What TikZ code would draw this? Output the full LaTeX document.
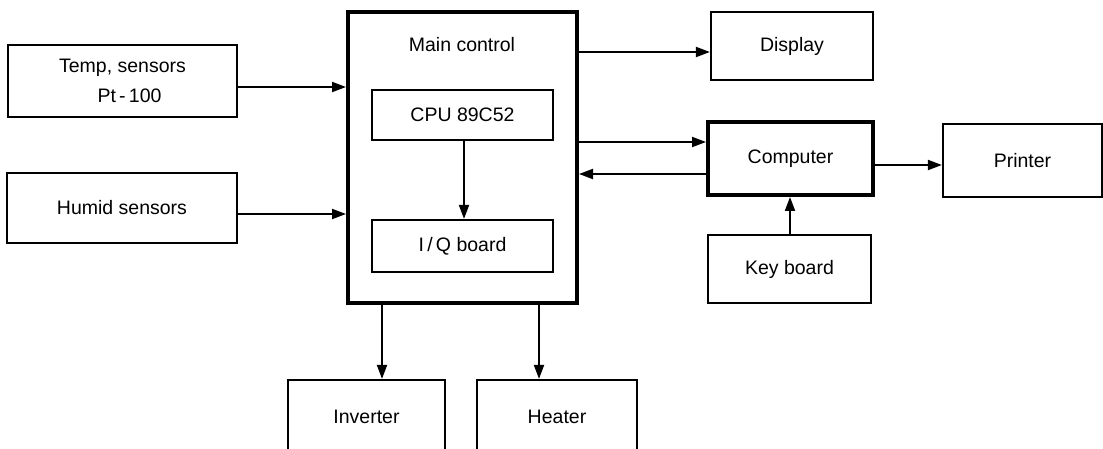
\documentclass[tikz,border=0pt]{standalone}
\usepackage{fontspec}
\setmainfont{Liberation Sans}
\usetikzlibrary{arrows.meta}
\begin{document}
\begin{tikzpicture}[x=1pt,y=-1pt,
  box/.style={draw, line width=2.2pt, rectangle, inner sep=0pt, align=center,
    font=\fontsize{19.5}{30}\selectfont},
  thickbox/.style={box, line width=4pt},
  arr/.style={line width=2pt, -{Triangle[length=14pt,width=10pt]}},
  lbl/.style={inner sep=0pt, font=\fontsize{19.5}{30}\selectfont}]
\useasboundingbox (0,0) rectangle (1103,449);
\fill[white] (0,0) rectangle (1103,449);
% left inputs
\node[box, minimum width=229pt, minimum height=72pt] (temp) at (122.5,81)
  {Temp, sensors\\\hspace*{14pt}Pt\,-\,100};
\node[box, minimum width=230pt, minimum height=70pt] (humid) at (122,208) {Humid sensors};
% main control
\node[thickbox, minimum width=229pt, minimum height=291pt] (main) at (462.5,157.5) {};
\node[lbl] (mainlbl) at (462,45) {Main control};
\node[box, minimum width=181pt, minimum height=50pt] (cpu) at (462.5,115) {CPU 89C52};
\node[box, minimum width=181pt, minimum height=52pt] (iq) at (462.5,246) {I\,/\,Q board};
% right side
\node[box, minimum width=162pt, minimum height=68pt] (display) at (792,46) {Display};
\node[thickbox, minimum width=165pt, minimum height=73pt] (computer) at (790.5,158.5) {Computer};
\node[box, minimum width=159pt, minimum height=73pt] (printer) at (1022.5,160.5) {Printer};
\node[box, minimum width=163pt, minimum height=68pt] (keyboard) at (789.5,269) {Key board};
% bottom outputs
\node[box, minimum width=157pt, minimum height=74pt] (inverter) at (366.5,417) {Inverter};
\node[box, minimum width=160pt, minimum height=74pt] (heater) at (557,417) {Heater};
% connectors
\draw[arr] (temp.east |- 0,87) -- (main.west |- 0,87);
\draw[arr] (humid.east |- 0,214) -- (main.west |- 0,214);
\draw[arr] (cpu.south -| 464,0) -- (iq.north -| 464,0);
\draw[arr] (main.east |- 0,52) -- (display.west |- 0,52);
\draw[arr] (main.east |- 0,142) -- (computer.west |- 0,142);
\draw[arr] (computer.west |- 0,174) -- (main.east |- 0,174);
\draw[arr] (computer.east |- 0,165) -- (printer.west |- 0,165);
\draw[arr] (keyboard.north -| 790,0) -- (computer.south -| 790,0);
\draw[arr] (main.south -| 382,0) -- (inverter.north -| 382,0);
\draw[arr] (main.south -| 539,0) -- (heater.north -| 539,0);
\end{tikzpicture}
\end{document}
